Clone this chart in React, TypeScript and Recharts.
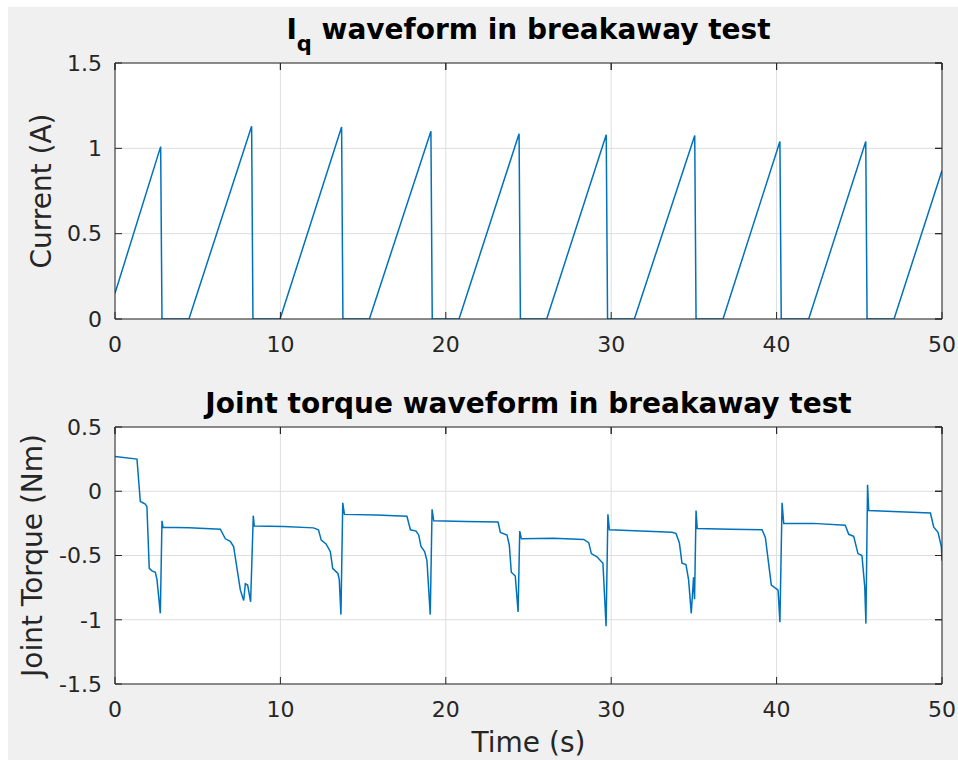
import React from 'react';
import { LineChart, Line, XAxis, YAxis, CartesianGrid } from 'recharts';

/* Iq: linear ramp up to breakaway, sharp drop, then held at zero */
const iqTime = [0, 2.76, 2.84, 4.47, 8.26, 8.34, 9.98, 13.7, 13.78, 15.38, 19.1, 19.18, 20.8,
    24.43, 24.51, 26.1, 29.7, 29.78, 31.4, 35.05, 35.13, 36.76, 40.2, 40.28, 41.94, 45.39, 45.47, 47.1, 50];
const iqCurrent = [0.15, 1.01, 0, 0, 1.13, 0, 0, 1.125, 0, 0, 1.1, 0, 0,
    1.085, 0, 0, 1.08, 0, 0, 1.075, 0, 0, 1.04, 0, 0, 1.04, 0, 0, 0.87];

/* Joint torque measured during the same run */
const torqueTime = [
    0, 1.33, 1.53, 1.83, 1.93, 2.07, 2.24, 2.44, 2.54, 2.74, 2.84, 2.9, 4.5,
    6.37, 6.67, 6.97, 7.17, 7.58, 7.78, 7.88, 8.02, 8.2, 8.36, 8.42, 10.2,
    12.0, 12.3, 12.47, 12.76, 13.02, 13.16, 13.48, 13.56, 13.66, 13.77, 13.87, 15.8,
    17.65, 17.86, 18.2, 18.36, 18.5, 18.72, 18.86, 19.06, 19.17, 19.27, 21.2,
    23.16, 23.3, 23.7, 23.84, 23.96, 24.2, 24.37, 24.47, 24.57, 26.5,
    28.34, 28.64, 28.8, 29.14, 29.5, 29.69, 29.8, 29.89, 31.8,
    33.68, 33.92, 34.12, 34.28, 34.52, 34.68, 34.84, 34.98, 35.04, 35.13, 35.2, 37.2,
    39.12, 39.32, 39.68, 40.09, 40.2, 40.33, 40.43, 42.2,
    44.15, 44.36, 44.66, 44.92, 45.16, 45.33, 45.4, 45.5, 45.57, 47.4,
    49.3, 49.5, 49.76, 49.96, 50,
];
const torqueNm = [
    0.27, 0.25, -0.08, -0.1, -0.12, -0.6, -0.62, -0.63, -0.69, -0.95, -0.23, -0.28, -0.285,
    -0.295, -0.37, -0.39, -0.43, -0.77, -0.85, -0.72, -0.73, -0.86, -0.19, -0.27, -0.275,
    -0.285, -0.3, -0.38, -0.41, -0.47, -0.6, -0.64, -0.69, -0.96, -0.09, -0.18, -0.185,
    -0.195, -0.3, -0.31, -0.34, -0.43, -0.47, -0.54, -0.96, -0.14, -0.23, -0.235,
    -0.24, -0.32, -0.34, -0.42, -0.63, -0.66, -0.94, -0.31, -0.37, -0.365,
    -0.375, -0.4, -0.485, -0.51, -0.56, -1.05, -0.18, -0.3, -0.31,
    -0.32, -0.33, -0.4, -0.56, -0.57, -0.69, -0.95, -0.67, -0.84, -0.15, -0.29, -0.295,
    -0.3, -0.36, -0.73, -0.77, -1.02, -0.09, -0.25, -0.25,
    -0.265, -0.335, -0.35, -0.485, -0.5, -0.745, -1.03, 0.05, -0.15, -0.16,
    -0.17, -0.28, -0.32, -0.43, -0.54,
];

const timeTicks = [0, 10, 20, 30, 40, 50];
const currentTicks = [0, 0.5, 1, 1.5];
const torqueTicks = [-1.5, -1, -0.5, 0, 0.5];

const iqData = iqTime.map((t, i) => ({ t, v: iqCurrent[i] }));
const torqueData = torqueTime.map((t, i) => ({ t, v: torqueNm[i] }));

const INK = '#262626';
const LINE = '#0072BD';
const FONT = 'DejaVu Sans, sans-serif';
const TICK_LEN = 7;
const tickFont = { fill: INK, fontSize: 22, fontFamily: FONT };

/* tick lines on the mirrored axes are drawn by the tick renderer itself (tickMargin 0 => x/y is the inner end) */
const TopTick = (p: any) => <line x1={p.x} y1={p.y} x2={p.x} y2={p.y - TICK_LEN} stroke={INK} />;
const RightTick = (p: any) => <line x1={p.x} y1={p.y} x2={p.x + TICK_LEN} y2={p.y} stroke={INK} />;

interface PanelProps {
    data: { t: number; v: number }[];
    yDomain: [number, number];
    yTicks: number[];
    top: number;
    marginTop: number;
    marginBottom: number;
}

/* One MATLAB-style axes box: inward ticks on all four sides, light grid */
const Panel = ({ data, yDomain, yTicks, top, marginTop, marginBottom }: PanelProps) => (
    <div style={{ position: 'absolute', left: 0, top }}>
        <LineChart width={958} height={380} data={data}
            margin={{ top: marginTop - 1, right: 15, bottom: marginBottom, left: 15 }}>
            <CartesianGrid stroke="#dedede" fill="#fff" fillOpacity={1} />
            <XAxis dataKey="t" type="number" domain={[0, 50]} ticks={timeTicks} interval={0}
                height={40} stroke={INK} tickSize={-TICK_LEN} tickMargin={24} tick={tickFont} allowDataOverflow />
            <XAxis xAxisId="top" dataKey="t" orientation="top" type="number" domain={[0, 50]} ticks={timeTicks}
                interval={0} height={1} stroke={INK} tickSize={-TICK_LEN} tickMargin={0} tick={TopTick}
                allowDataOverflow />
            <YAxis dataKey="v" type="number" domain={yDomain} ticks={yTicks} interval={0} width={100}
                stroke={INK} tickSize={-TICK_LEN} tickMargin={20} tick={tickFont} allowDataOverflow />
            <YAxis yAxisId="right" dataKey="v" orientation="right" type="number" domain={yDomain} ticks={yTicks}
                interval={0} width={1} stroke={INK} tickSize={-TICK_LEN} tickMargin={0} tick={RightTick}
                allowDataOverflow />
            <Line dataKey="v" type="linear" stroke={LINE} strokeWidth={1.5} dot={false}
                isAnimationActive={false} />
        </LineChart>
    </div>
);

export default function App() {
    return (
        <div style={{ position: 'absolute', left: 0, top: 0, width: 958, height: 760, background: '#fff' }}>
            <div style={{ position: 'absolute', left: 8, top: 7, right: 0, bottom: 0, background: '#f0f0f0' }} />

            <Panel data={iqData} yDomain={[0, 1.5]} yTicks={currentTicks} top={0} marginTop={63} marginBottom={21} />
            <Panel data={torqueData} yDomain={[-1.5, 0.5]} yTicks={torqueTicks} top={380} marginTop={47} marginBottom={36} />

            {/* Titles and axis labels */}
            <svg width={958} height={760} style={{ position: 'absolute', left: 0, top: 0, pointerEvents: 'none' }}
                fontFamily={FONT}>
                <text x={528.5} y={38.5} textAnchor="middle" fontSize={28} fontWeight="bold" fill="#000">
                    I<tspan dy={12} fontSize={21}>q</tspan><tspan dy={-12}> waveform in breakaway test</tspan>
                </text>
                <text x={528.5} y={413} textAnchor="middle" fontSize={28} fontWeight="bold" fill="#000">
                    Joint torque waveform in breakaway test
                </text>
                <text transform="translate(51,191) rotate(-90)" textAnchor="middle" fontSize={28} fill={INK}>
                    Current (A)
                </text>
                <text transform="translate(42,555.5) rotate(-90)" textAnchor="middle" fontSize={28} fill={INK}>
                    Joint Torque (Nm)
                </text>
                <text x={528.5} y={752} textAnchor="middle" fontSize={28} fill={INK}>
                    Time (s)
                </text>
            </svg>
        </div>
    );
}
